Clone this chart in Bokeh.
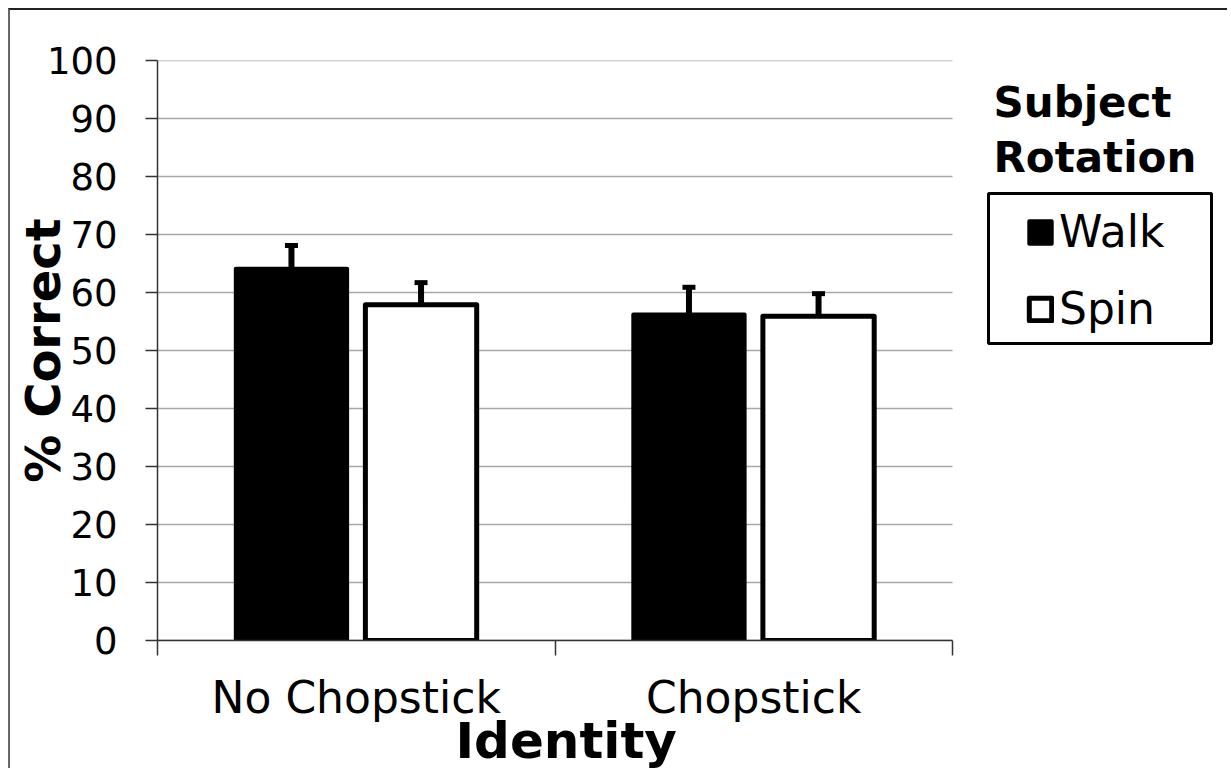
import math
from bokeh.plotting import figure
from bokeh.models import (Range1d, ColumnDataSource, FixedTicker, Whisker, TeeHead,
                          Legend, LegendItem, Label, Title, BoxAnnotation)
from bokeh.transform import dodge
from bokeh.embed import file_html
from bokeh.resources import INLINE

# ---- data ----
categories = ["No Chopstick", "Chopstick"]
cat_pos = [0.5, 1.5]
walk = [64.1, 56.2]
walk_err = [4.0, 4.7]
spin = [57.9, 55.9]
spin_err = [3.8, 3.9]
y_ticks = list(range(0, 101, 10))

FONT = "DejaVu Sans"

src = ColumnDataSource(dict(
    x=cat_pos,
    walk=walk, walk_up=[v + e for v, e in zip(walk, walk_err)],
    spin=spin, spin_up=[v + e for v, e in zip(spin, spin_err)],
))
grid_src = ColumnDataSource(dict(y=y_ticks, x0=[0] * len(y_ticks), x1=[2] * len(y_ticks)))

# layout (pixels)
W, H = 1219, 760
LEFT, TOP, BOTTOM = 147, 50, 130
CAT_PX = 397.5                      # pixels per category slot
frame_w = W - LEFT
x_end = frame_w / CAT_PX

p = figure(width=W, height=H, output_backend="svg", toolbar_location=None,
           x_range=Range1d(0, x_end), y_range=Range1d(0, 100),
           min_border_left=LEFT, min_border_right=0,
           min_border_top=TOP, min_border_bottom=BOTTOM)
p.styles = {"margin-left": "8px", "margin-top": "8px",
            "border-left": "2px solid #666666", "border-top": "2px solid #222222"}
p.outline_line_color = None
p.background_fill_color = "white"
p.border_fill_color = "white"

# grid (limited to the category area)
p.xgrid.visible = False
p.ygrid.visible = False
p.segment(x0="x0", x1="x1", y0="y", y1="y", source=grid_src,
          line_color="#a8a8a8", line_width=1.5, level="underlay")

# y axis
p.yaxis.ticker = FixedTicker(ticks=y_ticks)
p.yaxis.major_tick_in = 0
p.yaxis.major_tick_out = 12
p.yaxis.minor_tick_line_color = None
p.yaxis.axis_line_color = "#333333"
p.yaxis.axis_line_width = 1.5
p.yaxis.major_tick_line_color = "#333333"
p.yaxis.major_tick_line_width = 1.5
p.yaxis.major_label_text_font = FONT
p.yaxis.major_label_text_font_size = "37px"
p.yaxis.major_label_text_color = "black"
p.yaxis.major_label_standoff = 28
p.yaxis.axis_label = "% Correct"
p.yaxis.axis_label_text_font = FONT
p.yaxis.axis_label_text_font_style = "bold"
p.yaxis.axis_label_text_font_size = "48px"
p.yaxis.axis_label_text_color = "black"
p.yaxis.axis_label_standoff = -27

# x axis: labels at category centers, tick marks at boundaries
p.xaxis.bounds = (0, 2)
p.xaxis.ticker = FixedTicker(ticks=cat_pos, minor_ticks=[0, 1, 2])
p.xaxis.major_label_overrides = {cat_pos[i]: categories[i] for i in range(len(categories))}
p.xaxis.major_tick_in = 0
p.xaxis.major_tick_out = 0
p.xaxis.minor_tick_in = 0
p.xaxis.minor_tick_out = 15
p.xaxis.minor_tick_line_color = "#333333"
p.xaxis.minor_tick_line_width = 1.5
p.xaxis.axis_line_color = "#333333"
p.xaxis.axis_line_width = 1.5
p.xaxis.major_label_text_font = FONT
p.xaxis.major_label_text_font_size = "44px"
p.xaxis.major_label_text_color = "black"
p.xaxis.major_label_standoff = 16

p.add_layout(Title(text="Identity", align="left", vertical_align="top",
                   offset=298, standoff=-28,
                   text_font=FONT, text_font_style="bold", text_font_size="50px",
                   text_color="black"), "below")

# bars
bw = 0.28
off = 0.163
r_walk = p.vbar(x=dodge("x", -off, range=p.x_range), top="walk", bottom=0, width=bw,
                source=src, fill_color="black", line_color="black", line_width=4,
                line_join="round")
r_spin = p.vbar(x=dodge("x", off, range=p.x_range), top="spin", bottom=0, width=bw,
                source=src, fill_color="white", line_color="black", line_width=5,
                line_join="round")

# error bars (upper only)
for col, up, o in (("walk", "walk_up", -off), ("spin", "spin_up", off)):
    wk = Whisker(source=src, base=dodge("x", o, range=p.x_range), upper=up, lower=col,
                 dimension="height", line_color="black", line_width=6,
                 upper_head=TeeHead(size=13, line_width=5, line_color="black"),
                 lower_head=None, level="glyph")
    p.add_layout(wk)

# legend frame
p.add_layout(BoxAnnotation(left=831, right=1054, bottom=297, top=447,
                           left_units="screen", right_units="screen",
                           bottom_units="screen", top_units="screen",
                           fill_alpha=0, line_color="black", line_width=3,
                           line_alpha=1.0))

# legend
legend = Legend(items=[LegendItem(label="Walk", renderers=[r_walk]),
                       LegendItem(label="Spin", renderers=[r_spin])],
                location=(869, 306), orientation="vertical",
                border_line_color=None, background_fill_alpha=0,
                label_text_font=FONT, label_text_font_size="44px",
                label_text_color="black",
                glyph_width=28, glyph_height=28, label_standoff=5,
                label_height=30, spacing=26, padding=10, margin=0)
p.add_layout(legend, "center")

# legend heading
for txt, yy in (("Subject", 523), ("Rotation", 468)):
    p.add_layout(Label(x=836, y=yy + 15, x_units="screen", y_units="screen",
                       text=txt, text_font=FONT, text_font_style="bold",
                       text_font_size="42px", text_color="black",
                       text_align="left", text_baseline="alphabetic"))

open("out.html", "w").write(file_html(p, INLINE))
